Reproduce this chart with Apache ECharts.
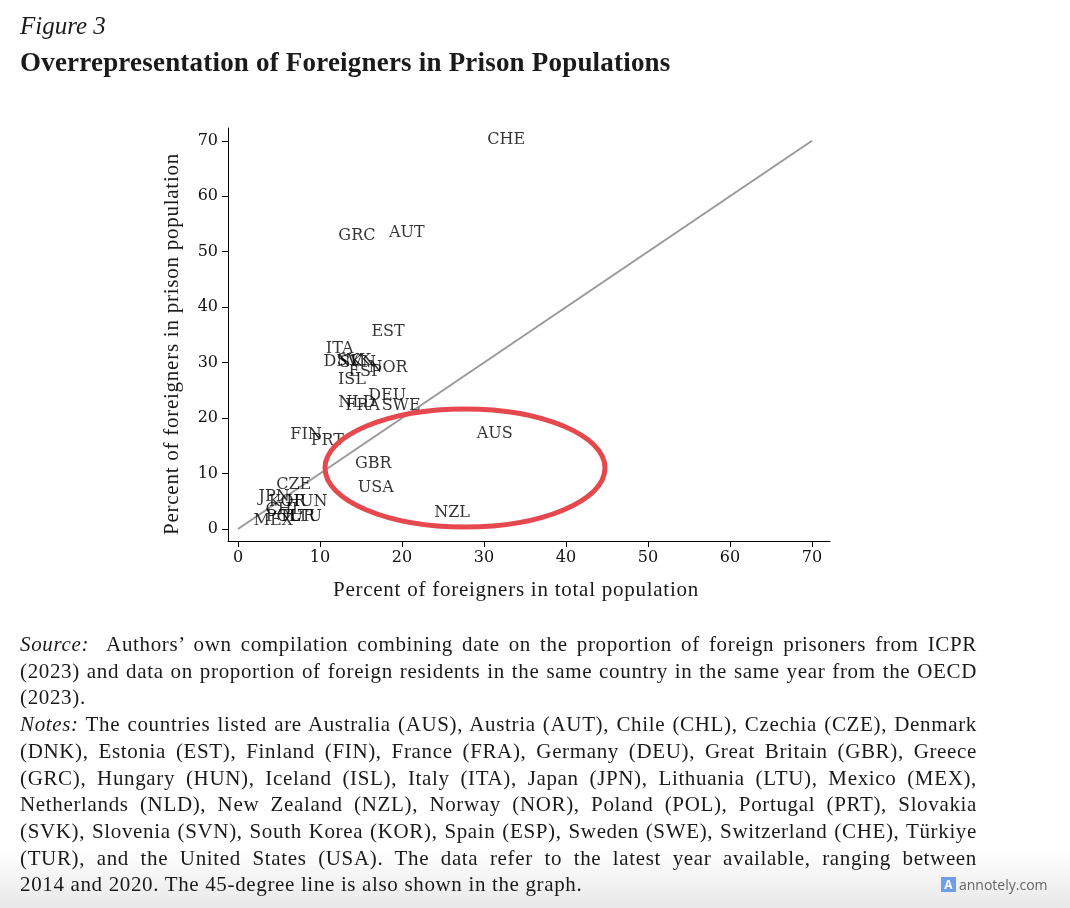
<!DOCTYPE html>
<html>
<head>
<meta charset="utf-8">
<script src="https://cdn.jsdelivr.net/npm/echarts@6/dist/echarts.min.js"></script>
<style>
  html, body { margin: 0; padding: 0; background: #fff; }
  #wrap { position: relative; width: 1070px; height: 908px; overflow: hidden; }
  #chart { position: absolute; left: 0; top: 0; width: 1070px; height: 908px; }
  .t { position: absolute; font-family: "Liberation Serif", serif; color: #1a1a1a; white-space: nowrap; }
  #fig { left: 20px; top: 12px; font-size: 25px; font-style: italic; }
  #title { left: 20px; top: 47px; font-size: 27px; font-weight: bold; letter-spacing: 0.2px; }
  #notes { left: 20px; top: 631px; width: 957px; font-size: 21px; line-height: 26.7px; letter-spacing: 0.65px; }
  #notes div { white-space: nowrap; }
  #notes div.j { text-align: justify; text-align-last: justify; white-space: normal; }
  .axt { font-size: 21px; letter-spacing: 0.75px; line-height: 24px; }
  #xt { left: 516px; top: 577px; transform: translateX(-50%); }
  #yt { left: 171px; top: 344px; transform: translate(-50%, -50%) rotate(-90deg); }
  #bottomfade { position: absolute; left: 0; top: 850px; width: 1070px; height: 58px;
    background: linear-gradient(to bottom, rgba(235,235,235,0), rgba(232,232,232,1)); }
  #badge { position: absolute; left: 941px; top: 875px; font-family: "Open Sans", sans-serif;
    font-size: 14px; color: #666; display: flex; align-items: center; }
  #badge span.ic { display: inline-block; width: 15px; height: 15px; background: #6f9ee8; color: #fff;
    font-size: 12px; line-height: 15px; text-align: center; margin-right: 3px; font-weight: bold; }
</style>
</head>
<body>
<div id="wrap">
  <div id="bottomfade"></div>
  <div id="chart"></div>
  <div class="t" id="fig">Figure 3</div>
  <div class="t" id="title">Overrepresentation of Foreigners in Prison Populations</div>
  <div class="t axt" id="xt">Percent of foreigners in total population</div>
  <div class="t axt" id="yt">Percent of foreigners in prison population</div>
  <div class="t" id="notes"></div>
  <div id="badge"><span class="ic">A</span>annotely.com</div>
</div>
<script>
// ---- data ----
const countries = ["CHE","GRC","AUT","EST","ITA","DNK","SVK","SVN","NOR","ESP","ISL","DEU","NLD","FRA","SWE","FIN","PRT","AUS","GBR","USA","NZL","CZE","JPN","KOR","HUN","CHL","POL","TUR","LTU","MEX"];
const foreignPop = [32.7,14.5,20.6,18.3,12.4,12.8,14.1,14.6,18.3,15.5,13.9,18.2,14.5,15.2,19.9,8.3,10.9,31.3,16.5,16.8,26.1,6.8,4.4,6.0,8.4,5.6,5.5,7.2,8.2,4.3];
const foreignPrison = [70.2,52.9,53.4,35.5,32.5,30.1,30.3,29.9,29.0,28.3,26.9,24.0,22.7,22.2,22.2,17.0,15.9,17.1,11.7,7.4,2.9,7.9,5.8,4.9,4.9,3.4,2.2,2.2,2.2,1.4];
const tickValues = [0,10,20,30,40,50,60,70];
const lineEnds = [[0,0],[70,70]];

const noteLines = [
  {html: '<i>Source:</i>&nbsp; Authors\u2019 own compilation combining date on the proportion of foreign prisoners from ICPR', j: true},
  {html: '(2023) and data on proportion of foreign residents in the same country in the same year from the OECD', j: true},
  {html: '(2023).', j: false},
  {html: '<i>Notes:</i> The countries listed are Australia (AUS), Austria (AUT), Chile (CHL), Czechia (CZE), Denmark', j: true},
  {html: '(DNK), Estonia (EST), Finland (FIN), France (FRA), Germany (DEU), Great Britain (GBR), Greece', j: true},
  {html: '(GRC), Hungary (HUN), Iceland (ISL), Italy (ITA), Japan (JPN), Lithuania (LTU), Mexico (MEX),', j: true},
  {html: 'Netherlands (NLD), New Zealand (NZL), Norway (NOR), Poland (POL), Portugal (PRT), Slovakia', j: true},
  {html: '(SVK), Slovenia (SVN), South Korea (KOR), Spain (ESP), Sweden (SWE), Switzerland (CHE), T\u00fcrkiye', j: true},
  {html: '(TUR), and the United States (USA). The data refer to the latest year available, ranging between', j: true},
  {html: '2014 and 2020. The 45-degree line is also shown in the graph.', j: false}
];
document.getElementById('notes').innerHTML = noteLines.map(l => '<div' + (l.j ? ' class="j"' : '') + '>' + l.html + '</div>').join('');

const pts = countries.map((c, i) => ({ name: c, value: [foreignPop[i], foreignPrison[i]] }));

const chart = echarts.init(document.getElementById('chart'), null, { renderer: 'canvas' });
const axisCommon = {
  type: 'value',
  splitLine: { show: false },
  axisLine: { show: true, onZero: false, lineStyle: { color: '#000', width: 1 } },
  axisTick: { show: true, inside: false, length: 6, customValues: tickValues, lineStyle: { color: '#000' } },
  axisLabel: { customValues: tickValues, color: '#111', fontFamily: 'DejaVu Serif', fontSize: 16 }
};
chart.setOption({
  animation: false,
  grid: { left: 228, right: 240, top: 128, bottom: 367, containLabel: false },
  xAxis: Object.assign({}, axisCommon, { min: -1.22, max: 72.2,
    axisLabel: Object.assign({}, axisCommon.axisLabel, { margin: 9 }) }),
  yAxis: Object.assign({}, axisCommon, { min: -2.16, max: 72.3,
    axisLabel: Object.assign({}, axisCommon.axisLabel, { margin: 10 }) }),
  series: [
    {
      type: 'line', data: lineEnds, symbol: 'none', silent: true,
      lineStyle: { color: '#999', width: 2 }, z: 1
    },
    {
      type: 'scatter', data: pts, symbolSize: 0, z: 3,
      label: {
        show: true, position: 'inside', formatter: p => p.name,
        color: '#000', fontFamily: 'DejaVu Serif', fontSize: 16
      },
      labelLayout: { hideOverlap: false }
    }
  ],
  graphic: [
    { type: 'ellipse', z: 20, shape: { cx: 465, cy: 468, rx: 140, ry: 59 },
      style: { fill: 'none', stroke: '#e5484d', lineWidth: 5 } }
  ]
});
</script>
</body>
</html>
